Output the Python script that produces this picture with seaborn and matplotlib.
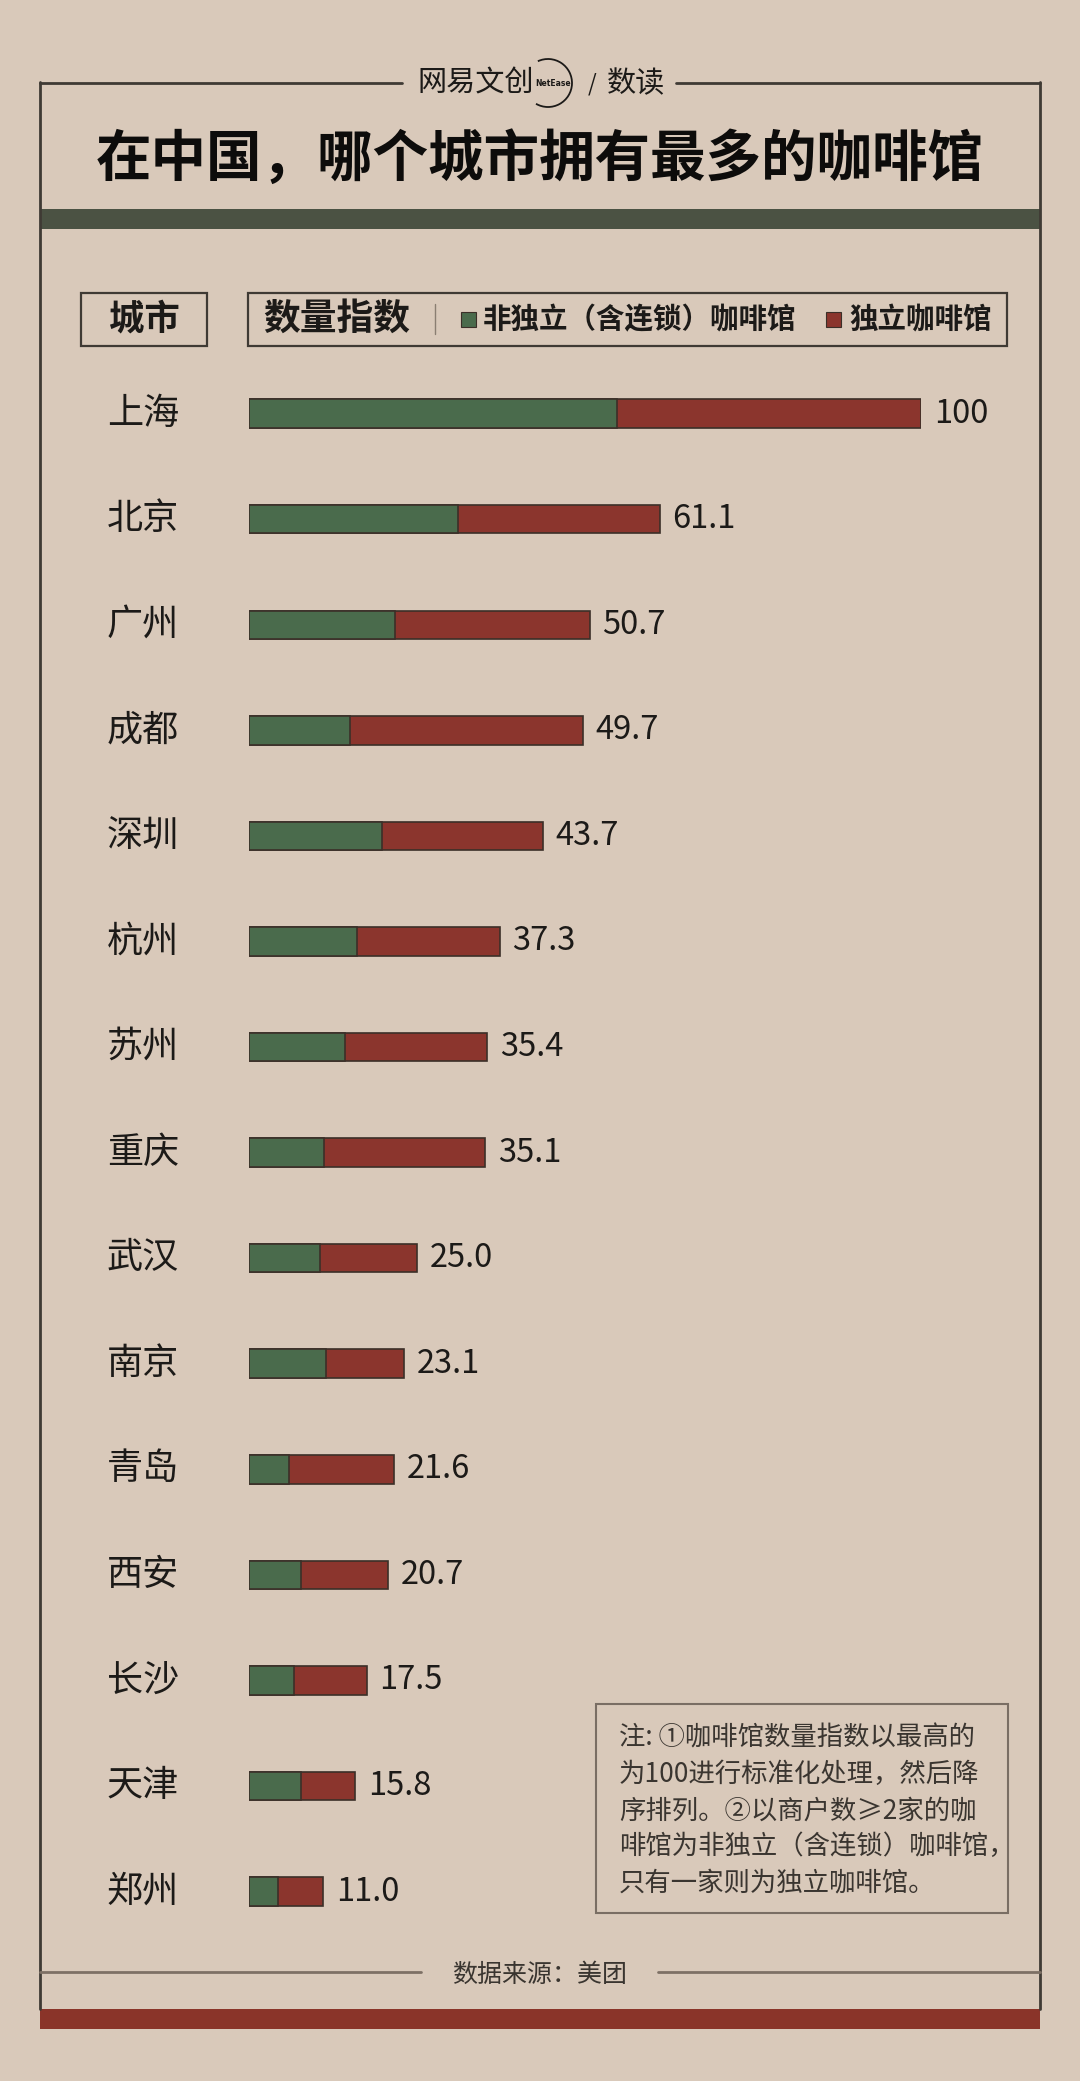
import matplotlib
matplotlib.use("Agg")
import matplotlib.pyplot as plt
import matplotlib.patches as mpatches
import seaborn as sns

# City names, total index and the chain (non-independent) part of it
cities = ["上海", "北京", "广州", "成都", "深圳", "杭州", "苏州", "重庆",
          "武汉", "南京", "青岛", "西安", "长沙", "天津", "郑州"]
totals = [100, 61.1, 50.7, 49.7, 43.7, 37.3, 35.4, 35.1,
          25.0, 23.1, 21.6, 20.7, 17.5, 15.8, 11.0]
chain = [54.8, 31.1, 21.7, 15.0, 19.8, 16.0, 14.3, 11.1,
         10.6, 11.5, 5.9, 7.8, 6.7, 7.8, 4.3]

title = "在中国，哪个城市拥有最多的咖啡馆"
legend_labels = ["非独立（含连锁）咖啡馆", "独立咖啡馆"]
note_lines = ["注: ①咖啡馆数量指数以最高的",
              "为100进行标准化处理，然后降",
              "序排列。②以商户数≥2家的咖",
              "啡馆为非独立（含连锁）咖啡馆，",
              "只有一家则为独立咖啡馆。"]
source = "数据来源：美团"

bg = "#d9c9ba"
green = "#4a6b4c"
red = "#8b352d"
edge = "#3b2f28"
frame = "#3f3a34"
dark = "#1c1a18"

sns.set_theme(style="white")
plt.rcParams["font.family"] = ["Noto Sans CJK SC", "DejaVu Sans"]

W, H = 1080, 2081
fig = plt.figure(figsize=(W / 100, H / 100), dpi=100, facecolor=bg)

# Overlay axes in pixel coordinates for the frame and boxes
ax0 = fig.add_axes([0, 0, 1, 1])
ax0.set_xlim(0, W)
ax0.set_ylim(H, 0)
ax0.axis("off")
ax0.set_facecolor(bg)

# top frame line with a gap for the logo
ax0.plot([40, 402], [83, 83], color=frame, lw=2)
ax0.plot([676, 1040], [83, 83], color=frame, lw=2)
ax0.plot([40, 40], [82, 2009], color=frame, lw=2)
ax0.plot([1040, 1040], [82, 2009], color=frame, lw=2)

# logo
ax0.text(476, 84, "网易文创", fontsize=21, fontweight="light", color=dark,
         ha="center", va="center")
ax0.add_patch(mpatches.Arc((548, 83), 48, 48, theta1=-115, theta2=120,
                           color=dark, lw=1.3))
ax0.text(553, 84, "NetEase", fontsize=5.5, fontweight="bold", color=dark,
         ha="center", va="center", family="DejaVu Sans")
ax0.text(592, 84, "/", fontsize=16, color=dark, ha="center", va="center")
ax0.text(636, 84, "数读", fontsize=21, fontweight="medium", color=dark,
         ha="center", va="center")

# title and top band
ax0.text(540, 160, title, fontsize=40, fontweight="black", color="#0d0c0b",
         ha="center", va="center")
ax0.add_patch(mpatches.Rectangle((40, 209), 1000, 20, color="#4b5243", lw=0))

# header boxes
ax0.add_patch(mpatches.Rectangle((81, 293), 126, 53, fill=False,
                                 edgecolor=frame, lw=1.6))
ax0.add_patch(mpatches.Rectangle((248, 293), 759, 53, fill=False,
                                 edgecolor=frame, lw=1.6))
ax0.text(144, 319, "城市", fontsize=25.5, fontweight="bold", color=dark,
         ha="center", va="center")
ax0.text(337, 319, "数量指数", fontsize=26.5, fontweight="bold", color=dark,
         ha="center", va="center")
ax0.plot([435, 435], [304, 334], color="#8a7e72", lw=1)
ax0.add_patch(mpatches.Rectangle((461, 312), 15, 15, facecolor=green,
                                 edgecolor=edge, lw=0.8))
ax0.text(483, 320, legend_labels[0], fontsize=20.5, fontweight="bold",
         color=dark, ha="left", va="center")
ax0.add_patch(mpatches.Rectangle((826, 312), 15, 15, facecolor=red,
                                 edgecolor=edge, lw=0.8))
ax0.text(849, 320, legend_labels[1], fontsize=20.5, fontweight="bold",
         color=dark, ha="left", va="center")

# note box
ax0.add_patch(mpatches.Rectangle((596, 1704), 412, 209, fill=False,
                                 edgecolor="#7a6e64", lw=1.5))
for i, line in enumerate(note_lines):
    ax0.text(619, 1738 + i * 36.3, line, fontsize=19, color="#3a3530",
             ha="left", va="center")

# source line and bottom band
ax0.plot([40, 421], [1972, 1972], color="#7d7065", lw=2)
ax0.plot([658, 1040], [1972, 1972], color="#7d7065", lw=2)
ax0.text(540, 1975, source, fontsize=18, fontweight="light", color="#3a3530",
         ha="center", va="center")
ax0.add_patch(mpatches.Rectangle((40, 2009), 1000, 20, color="#8a3429", lw=0))

# Bar axes: value 0 at x=249 px, 100 at x=921 px; rows 105.6 px apart
top_px, bot_px = 413.7 - 52.8, 1891.5 + 52.8
ax = fig.add_axes([249 / W, 1 - bot_px / H, 672 / W, (bot_px - top_px) / H])
ax.patch.set_alpha(0)

sns.barplot(x=totals, y=cities, color=red, width=0.27, edgecolor=edge,
            linewidth=1.2, saturation=1, ax=ax, orient="h")
sns.barplot(x=chain, y=cities, color=green, width=0.27, edgecolor=edge,
            linewidth=1.2, saturation=1, ax=ax, orient="h")

ax.set_xlim(0, 100)
ax.set_ylim(len(cities) - 0.5, -0.5)
ax.axis("off")

for i, (c, v) in enumerate(zip(cities, totals)):
    label = "100" if v == 100 else f"{v:.1f}"
    ax.text(v + 1.9, i, label, fontsize=23.5, color=dark, ha="left",
            va="center", clip_on=False)
    ax.text(-15.8, i, c, fontsize=26, color=dark, ha="center",
            va="center", clip_on=False)

fig.savefig("out.png", dpi=100, facecolor=bg)
